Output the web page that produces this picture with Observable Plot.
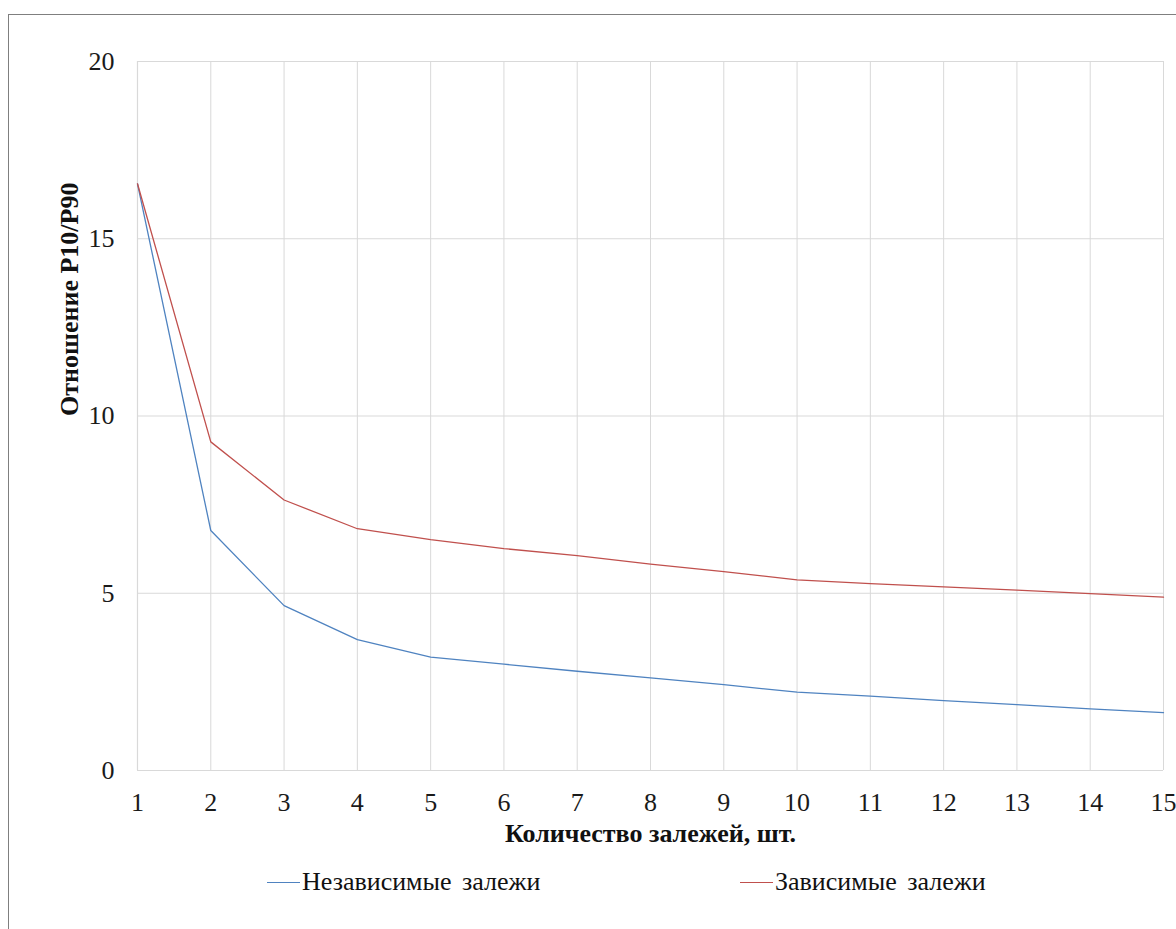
<!DOCTYPE html>
<html>
<head>
<meta charset="utf-8">
<script src="https://cdn.jsdelivr.net/npm/d3@7"></script>
<script src="https://cdn.jsdelivr.net/npm/@observablehq/plot@0.6"></script>
<style>
  html, body { margin: 0; padding: 0; background: #fff; }
  #wrap { position: relative; width: 1176px; height: 929px; overflow: hidden; font-family: "Liberation Serif", "Times New Roman", serif; }
  #frame { position: absolute; left: 8px; top: 14px; width: 1400px; height: 1200px; border: 1.5px solid #7f7f7f; box-sizing: border-box; pointer-events: none; }
  #chart { position: absolute; left: 0; top: 0; }
  #legend { position: absolute; left: 0; top: 862px; width: 1176px; height: 40px; font-size: 26px; color: #111; }
  .item { position: absolute; top: 0; height: 40px; line-height: 40px; white-space: nowrap; word-spacing: 4px; }
  .swatch { display: inline-block; width: 33px; height: 0; border-top: 1.5px solid; vertical-align: middle; margin-right: 2px; position: relative; top: -2px; }
</style>
</head>
<body>
<div id="wrap">
  <div id="frame"></div>
  <div id="chart"></div>
  <div id="legend"></div>
</div>
<script>
const counts = [1, 2, 3, 4, 5, 6, 7, 8, 9, 10, 11, 12, 13, 14, 15];
const independent = [16.55, 6.77, 4.65, 3.69, 3.20, 3.00, 2.80, 2.61, 2.42, 2.21, 2.10, 1.97, 1.86, 1.74, 1.63];
const dependent = [16.55, 9.27, 7.63, 6.82, 6.51, 6.26, 6.06, 5.82, 5.61, 5.38, 5.27, 5.18, 5.09, 4.99, 4.89];
const seriesNames = ["Независимые залежи", "Зависимые залежи"];
const seriesColors = ["#4f83c0", "#c0504d"];
const xTicks = counts;
const yTicks = [0, 5, 10, 15, 20];
const xTitle = "Количество залежей, шт.";
const yTitle = "Отношение P10/P90";

const rows = [];
counts.forEach((c, i) => {
  rows.push({x: c, y: independent[i], s: seriesNames[0]});
  rows.push({x: c, y: dependent[i], s: seriesNames[1]});
});

const chart = Plot.plot({
  width: 1176,
  height: 860,
  marginTop: 61,
  marginLeft: 137,
  marginRight: 13,
  marginBottom: 90,
  style: {fontFamily: "'Liberation Serif', 'Times New Roman', serif", fontSize: "26px", color: "#1a1a1a", background: "transparent", overflow: "visible"},
  x: {domain: [1, 15], ticks: xTicks},
  y: {domain: [0, 20], ticks: yTicks},
  color: {domain: seriesNames, range: seriesColors},
  marks: [
    Plot.gridX(xTicks, {stroke: "#d9d9d9", strokeOpacity: 1, strokeWidth: 1}),
    Plot.gridY(yTicks, {stroke: "#d9d9d9", strokeOpacity: 1, strokeWidth: 1}),
    Plot.ruleY([0], {stroke: "#d9d9d9", strokeWidth: 1.2}),
    Plot.ruleX([1], {stroke: "#d9d9d9", strokeWidth: 1.2}),
    Plot.line(rows, {x: "x", y: "y", z: "s", stroke: "s", strokeWidth: 1.3}),
    Plot.axisX(xTicks, {tickSize: 0, tickPadding: 22, label: null, fontSize: 26, tickFormat: d => String(d)}),
    Plot.axisY(yTicks, {tickSize: 0, tickPadding: 23, label: null, fontSize: 26, tickFormat: d => String(d)}),
    Plot.text([xTitle], {frameAnchor: "bottom", dy: 71, fontWeight: "bold", fontSize: 26, fill: "#111"}),
    Plot.text([yTitle], {frameAnchor: "left", dx: -68, rotate: -90, fontWeight: "bold", fontSize: 26, fill: "#111"})
  ]
});
document.getElementById("chart").appendChild(chart);

const legend = document.getElementById("legend");
const lefts = [267, 740];
seriesNames.forEach((name, i) => {
  const item = document.createElement("div");
  item.className = "item";
  item.style.left = lefts[i] + "px";
  const sw = document.createElement("span");
  sw.className = "swatch";
  sw.style.borderTopColor = seriesColors[i];
  item.appendChild(sw);
  item.appendChild(document.createTextNode(name));
  legend.appendChild(item);
});
</script>
</body>
</html>
